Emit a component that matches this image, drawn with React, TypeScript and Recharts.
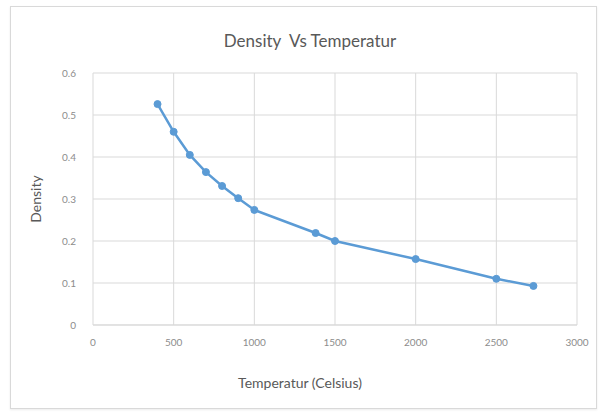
import { LineChart, Line, XAxis, YAxis, CartesianGrid } from "recharts";

const temperatures = [400, 500, 600, 700, 800, 900, 1000, 1380, 1500, 2000, 2500, 2730];
const densities = [0.526, 0.46, 0.405, 0.364, 0.331, 0.302, 0.274, 0.219, 0.2, 0.157, 0.11, 0.093];
const xTicks = [0, 500, 1000, 1500, 2000, 2500, 3000];
const yTicks = [0, 0.1, 0.2, 0.3, 0.4, 0.5, 0.6];

const data = temperatures.map((t, i) => ({ temp: t, density: densities[i] }));

const font = "Lato, 'Open Sans', sans-serif";
const gridColor = "#d9d9d9";
const tickStyle = { fill: "#8c8c8c", fontSize: 10, fontFamily: font };

export default function App() {
  return (
    <div
      style={{
        position: "fixed",
        left: 0,
        top: 0,
        width: 600,
        height: 412,
        background: "#fff",
        overflow: "hidden",
      }}
    >
      <div
        style={{
          position: "absolute",
          left: 10,
          top: 6,
          width: 585,
          height: 401,
          border: "1px solid #d9d9d9",
          boxShadow: "0 1px 2px rgba(0,0,0,0.08)",
        }}
      />
      <div
        style={{
          position: "absolute",
          left: 0,
          width: 620,
          top: 30,
          textAlign: "center",
          fontFamily: font,
          fontSize: 17,
          color: "#595959",
          whiteSpace: "pre",
        }}
      >
        {"Density  Vs Temperatur"}
      </div>
      <div
        style={{
          position: "absolute",
          left: 0,
          width: 600,
          top: 374,
          textAlign: "center",
          fontFamily: font,
          fontSize: 14,
          color: "#595959",
        }}
      >
        Temperatur (Celsius)
      </div>
      <div
        style={{
          position: "absolute",
          left: 35,
          top: 199,
          transform: "translate(-50%, -50%) rotate(-90deg)",
          fontFamily: font,
          fontSize: 14,
          color: "#595959",
        }}
      >
        Density
      </div>
      <div style={{ position: "absolute", left: 0, top: 0 }}>
        <LineChart
          width={600}
          height={412}
          data={data}
          margin={{ top: 73, right: 23, bottom: 57, left: 0 }}
        >
          <CartesianGrid stroke={gridColor} strokeWidth={1} />
          <XAxis
            dataKey="temp"
            type="number"
            domain={[0, 3000]}
            ticks={xTicks}
            axisLine={{ stroke: gridColor }}
            tickLine={false}
            tickSize={0}
            tickMargin={14}
            height={30}
            tick={tickStyle}
            interval={0}
          />
          <YAxis
            type="number"
            domain={[0, 0.6]}
            ticks={yTicks}
            axisLine={false}
            tickLine={false}
            tickSize={0}
            tickMargin={17}
            width={93}
            tick={tickStyle}
            interval={0}
          />
          <Line
            dataKey="density"
            type="linear"
            stroke="#5b9bd5"
            strokeWidth={2.5}
            dot={{ r: 3.5, fill: "#5b9bd5", stroke: "#5b9bd5", strokeWidth: 1 }}
            isAnimationActive={false}
          />
        </LineChart>
      </div>
    </div>
  );
}
